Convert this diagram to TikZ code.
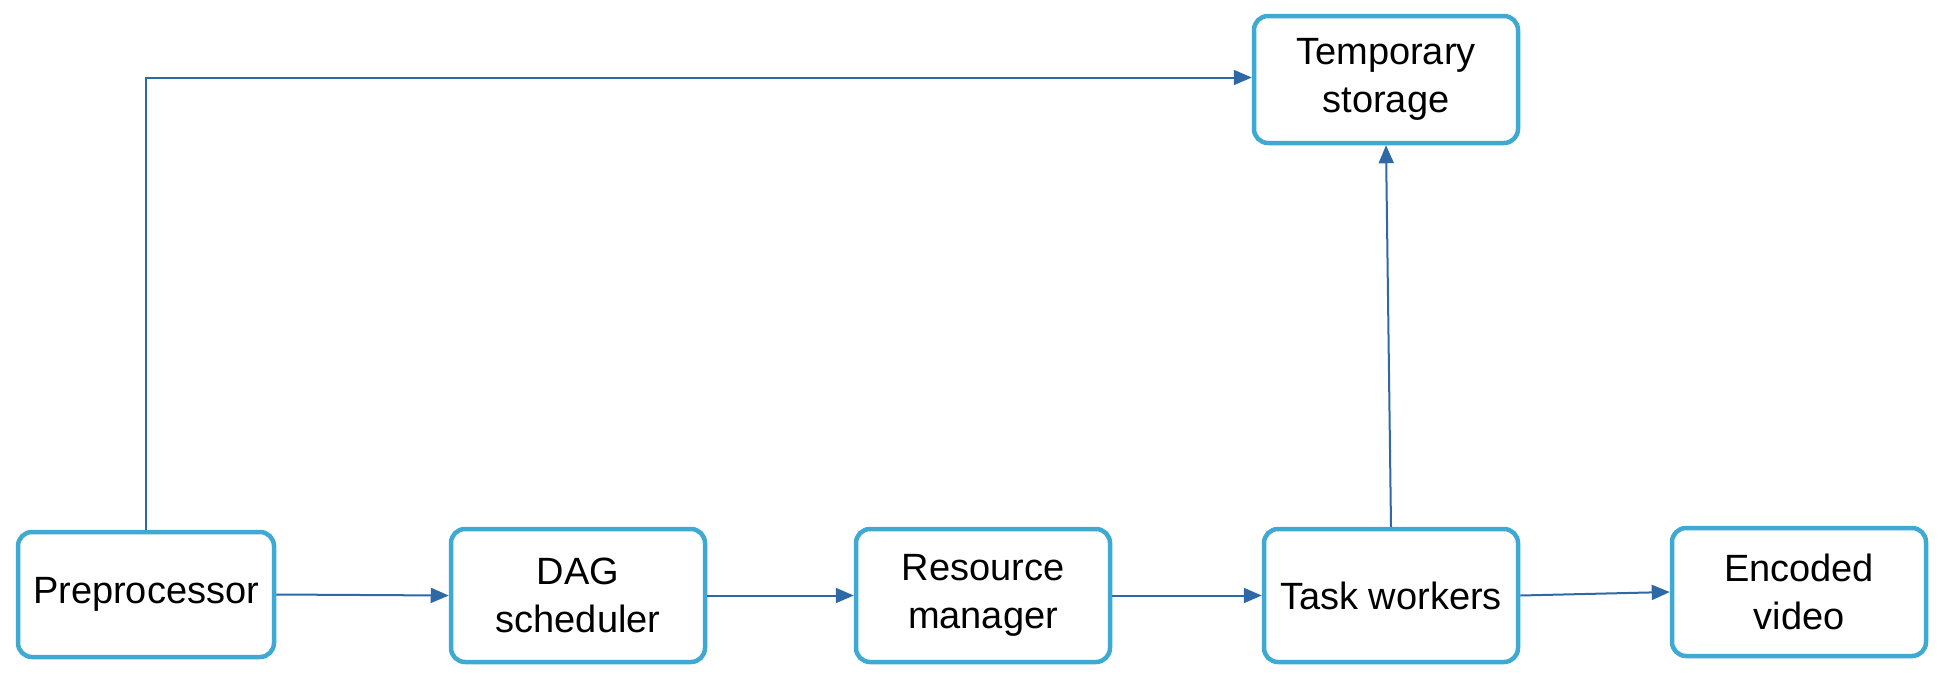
\documentclass[tikz,border=0pt]{standalone}
\usepackage{fontspec}
\setmainfont{Liberation Sans}
\usetikzlibrary{arrows.meta}
\definecolor{boxc}{RGB}{62,169,210}
\definecolor{linec}{RGB}{46,104,166}
\begin{document}
\begin{tikzpicture}[x=1pt,y=-1pt,
  box/.style={draw=boxc, line width=4.5pt, rounded corners=14pt, fill=white,
    align=center, font=\fontsize{38}{48}\selectfont, inner sep=0pt},
  conn/.style={draw=linec, line width=2pt, -{Triangle[length=18pt,width=15pt]}}]
\useasboundingbox (0,0) rectangle (1940,681);
\node[box, minimum width=256pt, minimum height=125pt] (pre) at (146,594.5) {Preprocessor};
\node[box, minimum width=254pt, minimum height=133pt] (dag) at (578,595.5) {DAG\\scheduler};
\node[box, minimum width=254pt, minimum height=133pt] (rm) at (983,595.5) {Resource\\manager};
\node[box, minimum width=254pt, minimum height=133pt] (tw) at (1391,595.5) {Task workers};
\node[box, minimum width=254pt, minimum height=128pt] (ev) at (1799,592) {Encoded\\video};
\node[box, minimum width=264pt, minimum height=127pt] (tmp) at (1386,79.5) {Temporary\\storage};
\draw[conn] (pre.east) -- (dag.west);
\draw[conn] (dag.east) -- (rm.west);
\draw[conn] (rm.east) -- (tw.west);
\draw[conn] (tw.east) -- (ev.west);
\draw[conn] (tw.north) -- (tmp.south);
\draw[conn] (pre.north) |- ([yshift=2pt]tmp.west);
\end{tikzpicture}
\end{document}
